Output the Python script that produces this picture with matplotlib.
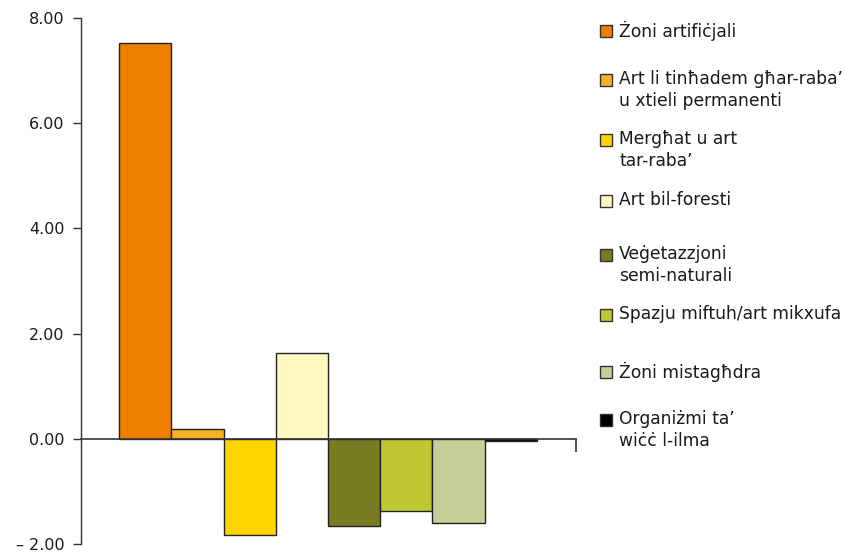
import matplotlib
matplotlib.use("Agg")
import matplotlib.pyplot as plt
from matplotlib.patches import Rectangle

categories = [
    "Żoni artifiċjali",
    "Art li tinħadem għar-raba’\nu xtieli permanenti",
    "Mergħat u art\ntar-raba’",
    "Art bil-foresti",
    "Veġetazzjoni\nsemi-naturali",
    "Spazju miftuh/art mikxufa",
    "Żoni mistagħdra",
    "Organiżmi ta’\nwiċċ l-ilma",
]
values = [7.52, 0.19, -1.82, 1.63, -1.65, -1.38, -1.61, -0.04]
colors = ["#EE7F00", "#F7B125", "#FFD500", "#FFF8C0",
          "#787B22", "#BEC832", "#C4D098", "#000000"]
yticks = [-2, 0, 2, 4, 6, 8]
ytick_labels = ["– 2.00", "0.00", "2.00", "4.00", "6.00", "8.00"]

plt.rcParams['font.family'] = ['DejaVu Sans']

fig = plt.figure(figsize=(8.46, 5.54), dpi=100)
ax = fig.add_axes([81/846, 1-544/554, (576-81)/846, (544-18)/554])

x = list(range(len(values)))
ax.bar(x, values, width=1.0, color=colors, edgecolor="#222222", linewidth=1.0, zorder=2)

ax.set_xlim(-1.23, 8.25)
ax.set_ylim(-2, 8)
ax.set_yticks(yticks)
ax.set_yticklabels(ytick_labels, fontsize=11.5, color="#1a1a1a")

for s in ["top", "right"]:
    ax.spines[s].set_visible(False)
ax.spines["bottom"].set_position(("data", 0))
ax.spines["bottom"].set_color("#333333")
ax.spines["bottom"].set_linewidth(1.2)
ax.spines["bottom"].set_zorder(3)
ax.spines["left"].set_color("#333333")
ax.spines["left"].set_linewidth(1.0)
ax.tick_params(axis="y", direction="out", length=6, width=1.0, color="#333333", pad=6)
ax.set_xticks([8.25])
ax.set_xticklabels([""])
ax.tick_params(axis="x", direction="out", length=9, width=1.2, color="#333333")

# manual legend
legend_y = [31, 80, 140, 201, 255, 315, 372, 420]
W, H = 846, 554
for lab, col, yy in zip(categories, colors, legend_y):
    fig.patches.append(Rectangle((600/W, 1-(yy+6)/H), 12/W, 12/H, transform=fig.transFigure,
                                 facecolor=col, edgecolor="#333333", linewidth=1.0))
    fig.text(619/W, 1-(yy-10)/H, lab, fontsize=12.3, color="#1a1a1a", va="top", ha="left",
             linespacing=1.3)

fig.savefig("out.png", dpi=100)
